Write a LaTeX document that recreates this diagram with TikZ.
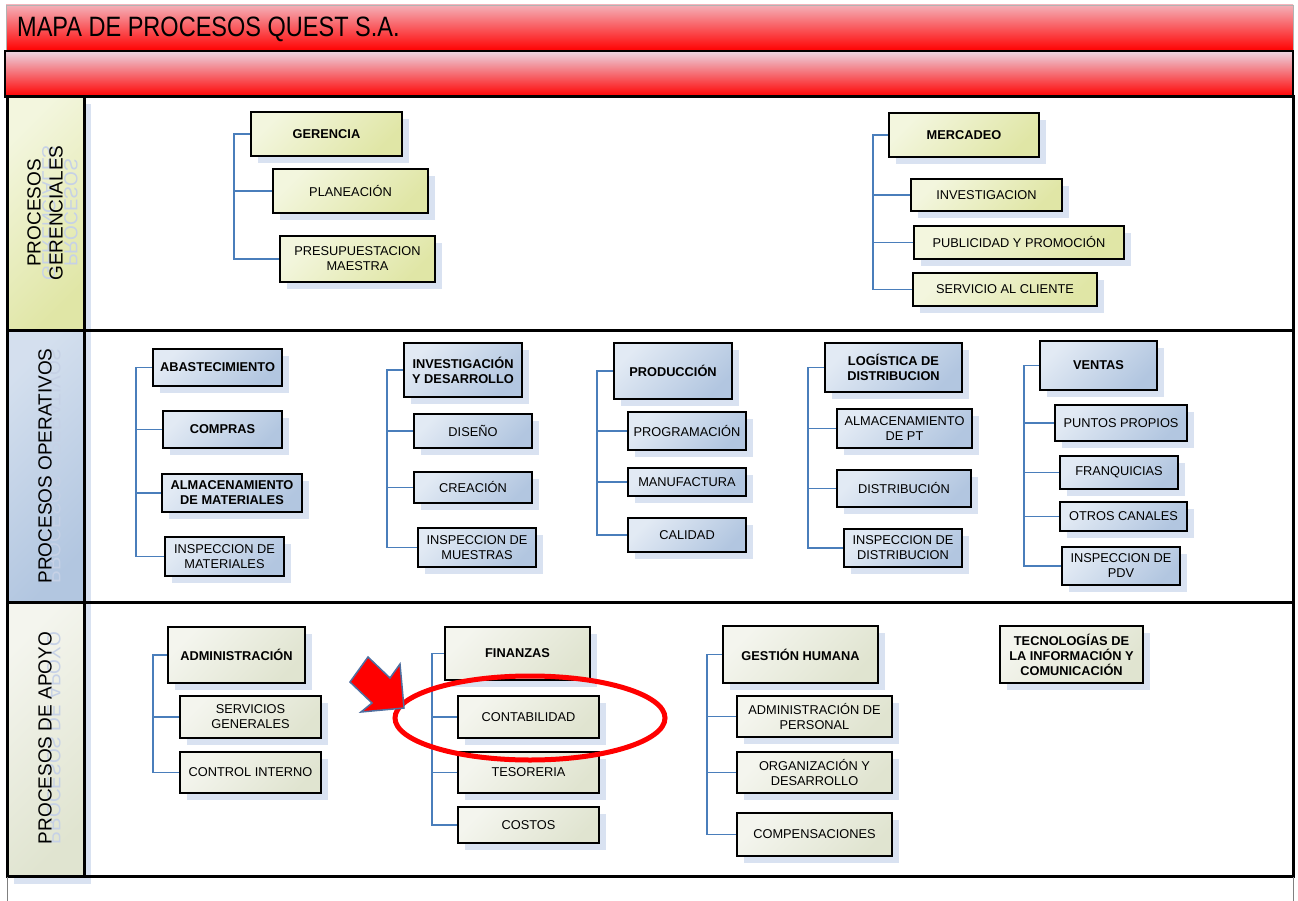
\documentclass[tikz,border=0pt]{standalone}
\usepackage{fontspec}
\setmainfont{Liberation Sans}
\usetikzlibrary{shapes.geometric}
\definecolor{gA}{HTML}{F3F6DE}\definecolor{gB}{HTML}{E0E6A6}
\definecolor{bA}{HTML}{E2EAF4}\definecolor{bB}{HTML}{B2C6E0}
\definecolor{eA}{HTML}{F4F5EE}\definecolor{eB}{HTML}{E0E4D0}
\definecolor{shadowc}{HTML}{D9E2F1}
\definecolor{connc}{HTML}{4A7EBB}
\definecolor{ghostc}{HTML}{C6D1E6}
\definecolor{arrowc}{HTML}{4F6FA0}
\definecolor{titA}{HTML}{F4B0B8}\definecolor{titM}{HTML}{F26A72}
\definecolor{barA}{HTML}{ECD6E2}\definecolor{barM}{HTML}{F0868E}
\newcommand{\boxfont}{\fontsize{12.8}{15}\selectfont}
\newcommand{\pbox}[7]{%
  \fill[shadowc] ({#3+7},{#4+7}) rectangle ({#5+7},{#6+7});
  \node[#1, minimum width={#5-#3}, minimum height={#6-#4}] (#2) at ({(#3+#5)/2},{(#4+#6)/2}) {#7};
}
\tikzset{
  basebox/.style={draw=black, line width=2.8pt, align=center, inner sep=1pt, font=\boxfont},
  gbox/.style={basebox, top color=gA, bottom color=gB, shading angle=45},
  gboxb/.style={gbox, font=\boxfont\bfseries},
  bbox/.style={basebox, top color=bA, bottom color=bB, shading angle=45},
  bboxb/.style={bbox, font=\boxfont\bfseries},
  ebox/.style={basebox, top color=eA, bottom color=eB, shading angle=45},
  eboxb/.style={ebox, font=\boxfont\bfseries},
  conn/.style={draw=connc, line width=1.3pt},
  lbl/.style={rotate=90, align=center, font=\fontsize{19}{22}\selectfont},
  ghost/.style={rotate=90, yscale=-1, align=center, text=ghostc, font=\fontsize{19}{22}\selectfont},
  frame/.style={draw=black, line width=3pt}
}
\begin{document}
\begin{tikzpicture}[x=1pt,y=-1pt]
\useasboundingbox (0,0) rectangle (1298,901);
% title bars
\shade[top color=titA, middle color=titM, bottom color=red] (6,5) rectangle (1293,51);
\draw[gray!60, line width=0.8pt] (6,51) -- (6,5) -- (1293,5) -- (1293,51);
\node[anchor=base west, font=\fontsize{28}{30}\selectfont, xscale=0.84, inner sep=0] (title) at (17,37) {MAPA DE PROCESOS QUEST S.A.};
\shade[top color=barA, middle color=barM, bottom color=red] (5,51) rectangle (1293,97);
\draw[frame, line width=2.6pt] (5,51) rectangle (1293,97);
% label columns
\fill[shadowc] (14,104) rectangle (91,337);
\shade[top color=gA, bottom color=gB, shading angle=45] (7,97) rectangle (84,330);
\fill[shadowc] (14,337) rectangle (91,609);
\shade[top color=bA!70!bB, bottom color=bB, shading angle=45] (7,330) rectangle (84,602);
\fill[shadowc] (14,609) rectangle (91,884);
\shade[top color=eA, bottom color=eB, shading angle=45] (7,602) rectangle (84,876);
\node[ghost] (g1) at (60,213) {PROCESOS\\GERENCIALES};
\node[lbl] (l1) at (45,213) {PROCESOS\\GERENCIALES};
\node[ghost] (g2) at (54,466) {PROCESOS OPERATIVOS};
\node[lbl] (l2) at (45,466) {PROCESOS OPERATIVOS};
\node[ghost] (g3) at (54,738) {PROCESOS DE APOYO};
\node[lbl] (l3) at (45,738) {PROCESOS DE APOYO};
% frame
\draw[frame] (7,97) rectangle (1293,876);
\draw[frame] (7,330) -- (1293,330);
\draw[frame] (7,602) -- (1293,602);
\draw[frame] (84,97) -- (84,876);
\draw[gray, line width=1pt] (7,877) -- (7,901);
\draw[gray, line width=1pt] (1293,877) -- (1293,901);
% ---- Section 1
\pbox{gboxb}{ger}{251}{112}{402}{156}{GERENCIA}
\pbox{gbox}{plan}{273}{169}{428}{213}{PLANEACIÓN}
\pbox{gbox}{presup}{280}{236}{435}{282}{PRESUPUESTACION\\MAESTRA}
\coordinate (t1) at (234,0);
\draw[conn] (ger.west) -- (ger.west -| t1) |- (presup.west);
\draw[conn] (ger.west -| t1) |- (plan.west);
\pbox{gboxb}{mer}{889}{113}{1039}{157}{MERCADEO}
\pbox{gbox}{inv}{911}{179}{1062}{211}{INVESTIGACION}
\pbox{gbox}{pub}{914}{226}{1124}{259}{PUBLICIDAD Y PROMOCIÓN}
\pbox{gbox}{serv}{913}{273}{1097}{306}{SERVICIO AL CLIENTE}
\coordinate (t2) at (873,0);
\draw[conn] (mer.west) -- (mer.west -| t2) |- (serv.west);
\draw[conn] (mer.west -| t2) |- (inv.west);
\draw[conn] (mer.west -| t2) |- (pub.west);
% ---- Section 2
\pbox{bboxb}{aba}{153}{349}{282}{386}{ABASTECIMIENTO}
\pbox{bboxb}{com}{163}{411}{282}{448}{COMPRAS}
\pbox{bboxb}{alm}{162}{474}{302}{512}{ALMACENAMIENTO\\DE MATERIALES}
\pbox{bbox}{insm}{165}{537}{284}{576}{INSPECCION DE\\MATERIALES}
\coordinate (t3) at (136,0);
\draw[conn] (aba.west) -- (aba.west -| t3) |- (insm.west);
\draw[conn] (aba.west -| t3) |- (com.west);
\draw[conn] (aba.west -| t3) |- (alm.west);
\pbox{bboxb}{idd}{404}{343}{522}{397}{INVESTIGACIÓN\\Y DESARROLLO}
\pbox{bbox}{dis}{414}{414}{532}{448}{DISEÑO}
\pbox{bbox}{cre}{414}{472}{532}{503}{CREACIÓN}
\pbox{bbox}{insmu}{418}{528}{536}{567}{INSPECCION DE\\MUESTRAS}
\coordinate (t4) at (387,0);
\draw[conn] (idd.west) -- (idd.west -| t4) |- (insmu.west);
\draw[conn] (idd.west -| t4) |- (dis.west);
\draw[conn] (idd.west -| t4) |- (cre.west);
\pbox{bboxb}{pro}{614}{343}{732}{399}{PRODUCCIÓN}
\pbox{bbox}{prg}{628}{412}{746}{450}{PROGRAMACIÓN}
\pbox{bbox}{man}{628}{468}{746}{496}{MANUFACTURA}
\pbox{bbox}{cal}{628}{518}{746}{552}{CALIDAD}
\coordinate (t5) at (597,0);
\draw[conn] (pro.west) -- (pro.west -| t5) |- (cal.west);
\draw[conn] (pro.west -| t5) |- (prg.west);
\draw[conn] (pro.west -| t5) |- (man.west);
\pbox{bboxb}{log}{825}{343}{962}{392}{LOGÍSTICA DE\\DISTRIBUCION}
\pbox{bbox}{apt}{837}{409}{972}{448}{ALMACENAMIENTO\\DE PT}
\pbox{bbox}{dist}{837}{470}{971}{507}{DISTRIBUCIÓN}
\pbox{bbox}{insd}{844}{529}{962}{567}{INSPECCION DE\\DISTRIBUCION}
\coordinate (t6) at (808,0);
\draw[conn] (log.west) -- (log.west -| t6) |- (insd.west);
\draw[conn] (log.west -| t6) |- (apt.west);
\draw[conn] (log.west -| t6) |- (dist.west);
\pbox{bboxb}{ven}{1040}{341}{1157}{390}{VENTAS}
\pbox{bbox}{pp}{1055}{405}{1187}{441}{PUNTOS PROPIOS}
\pbox{bbox}{fra}{1060}{456}{1178}{489}{FRANQUICIAS}
\pbox{bbox}{otr}{1060}{502}{1187}{531}{OTROS CANALES}
\pbox{bbox}{pdv}{1062}{547}{1180}{585}{INSPECCION DE\\PDV}
\coordinate (t7) at (1024,0);
\draw[conn] (ven.west) -- (ven.west -| t7) |- (pdv.west);
\draw[conn] (ven.west -| t7) |- (pp.west);
\draw[conn] (ven.west -| t7) |- (fra.west);
\draw[conn] (ven.west -| t7) |- (otr.west);
% ---- Section 3
\pbox{eboxb}{adm}{168}{627}{305}{683}{ADMINISTRACIÓN}
\pbox{ebox}{sg}{180}{696}{321}{738}{SERVICIOS\\GENERALES}
\pbox{ebox}{ci}{180}{752}{321}{793}{CONTROL INTERNO}
\coordinate (t8) at (153,0);
\draw[conn] (adm.west) -- (adm.west -| t8) |- (ci.west);
\draw[conn] (adm.west -| t8) |- (sg.west);
\pbox{eboxb}{fin}{445}{627}{590}{680}{FINANZAS}
\pbox{ebox}{cont}{458}{696}{599}{738}{CONTABILIDAD}
\pbox{ebox}{tes}{458}{752}{599}{793}{TESORERIA}
\pbox{ebox}{cos}{458}{807}{599}{843}{COSTOS}
\coordinate (t9) at (432,0);
\draw[conn] (fin.west) -- (fin.west -| t9) |- (cos.west);
\draw[conn] (fin.west -| t9) |- (cont.west);
\draw[conn] (fin.west -| t9) |- (tes.west);
\pbox{eboxb}{gh}{723}{626}{878}{683}{GESTIÓN HUMANA}
\pbox{ebox}{ap}{737}{696}{892}{737}{ADMINISTRACIÓN DE\\PERSONAL}
\pbox{ebox}{oyd}{737}{752}{892}{793}{ORGANIZACIÓN Y\\DESARROLLO}
\pbox{ebox}{comp}{737}{813}{892}{856}{COMPENSACIONES}
\coordinate (t10) at (707,0);
\draw[conn] (gh.west) -- (gh.west -| t10) |- (comp.west);
\draw[conn] (gh.west -| t10) |- (ap.west);
\draw[conn] (gh.west -| t10) |- (oyd.west);
\pbox{eboxb}{tic}{1000}{626}{1143}{683}{TECNOLOGÍAS DE\\LA INFORMACIÓN Y\\COMUNICACIÓN}
% highlight
\node[draw=red, line width=5pt, ellipse, minimum width=270, minimum height=84, inner sep=0] (hl) at (530,718) {};
\draw[fill=red, draw=arrowc, line width=1.5pt, line join=miter]
  (368,657) -- (390,678) -- (400,664) -- (404,708) -- (361,712) -- (372,703) -- (350,682) -- cycle;
\end{tikzpicture}
\end{document}
